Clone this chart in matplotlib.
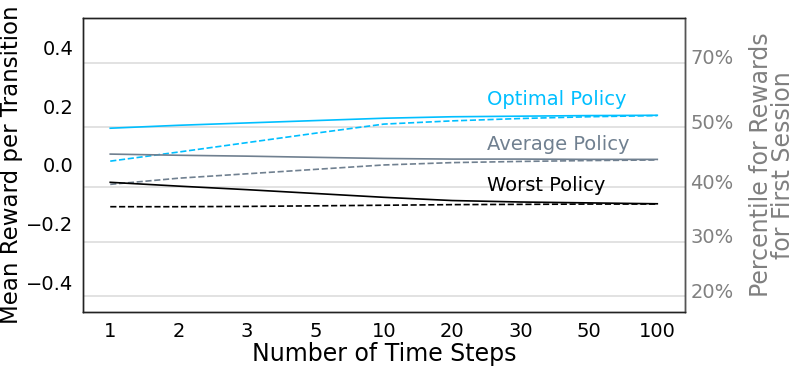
import matplotlib.pyplot as plt
import matplotlib.transforms as mtransforms

steps = ["1", "2", "3", "5", "10", "20", "30", "50", "100"]

optimal = [0.125, 0.135, 0.143, 0.151, 0.159, 0.164, 0.166, 0.168, 0.169]
optimal_first = [0.013, 0.044, 0.076, 0.108, 0.139, 0.150, 0.158, 0.164, 0.168]
average = [0.037, 0.033, 0.030, 0.026, 0.022, 0.020, 0.020, 0.019, 0.019]
average_first = [-0.066, -0.045, -0.030, -0.015, 0.000, 0.008, 0.012, 0.015, 0.017]
worst = [-0.059, -0.072, -0.084, -0.097, -0.110, -0.121, -0.126, -0.129, -0.132]
worst_first = [-0.142, -0.142, -0.141, -0.139, -0.137, -0.135, -0.134, -0.133, -0.133]

pct_labels = ["20%", "30%", "40%", "50%", "70%"]
pct_reward = [-0.446, -0.262, -0.075, 0.129, 0.347]

c_opt = "#00bfff"
c_avg = "#708090"
c_worst = "black"


def main():
    fig = plt.figure(figsize=(7.97, 3.67), dpi=100)
    ax = fig.add_axes([0.104, 0.150, 0.755, 0.801])
    x = range(len(steps))

    ax.plot(x, optimal, color=c_opt, lw=1.2)
    ax.plot(x, optimal_first, color=c_opt, lw=1.2, ls="--")
    ax.plot(x, average, color=c_avg, lw=1.2)
    ax.plot(x, average_first, color=c_avg, lw=1.2, ls="--")
    ax.plot(x, worst, color=c_worst, lw=1.2)
    ax.plot(x, worst_first, color=c_worst, lw=1.2, ls="--")

    ax.text(5.51, 0.221, "Optimal Policy", color=c_opt, fontsize=14, va="center")
    ax.text(5.51, 0.071, "Average Policy", color=c_avg, fontsize=14, va="center")
    ax.text(5.51, -0.071, "Worst Policy", color=c_worst, fontsize=14, va="center")

    ax.set_xlim(-0.4, 8.4)
    ax.set_ylim(-0.5, 0.5)
    ax.set_xticks(list(x))
    ax.set_xticklabels(steps)
    ax.set_yticks([-0.4, -0.2, 0.0, 0.2, 0.4])
    ax.tick_params(length=0, labelsize=14, pad=7)
    ax.set_xlabel("Number of Time Steps", fontsize=17, labelpad=1)
    ax.set_ylabel("Mean Reward per Transition", fontsize=16.5, labelpad=2)

    for y in pct_reward:
        ax.axhline(y, color="#dddddd", lw=1.2, zorder=0)

    ax2 = ax.twinx()
    ax2.set_ylim(-0.5, 0.5)
    ax2.set_yticks(pct_reward)
    ax2.set_yticklabels(pct_labels)
    ax2.tick_params(length=0, labelsize=14, pad=4, labelcolor="gray")
    offset = mtransforms.ScaledTranslation(0, 0.06, fig.dpi_scale_trans)
    for lab in ax2.get_yticklabels():
        lab.set_transform(lab.get_transform() + offset)
    ax2.set_ylabel("Percentile for Rewards\nfor First Session", fontsize=17,
                   color="gray", linespacing=0.9, labelpad=11)

    for a in (ax, ax2):
        for s in a.spines.values():
            s.set_color("#222222")
            s.set_linewidth(1.0)
    ax2.spines["right"].set_color("#555555")

    plt.savefig("out.png", dpi=100)


if __name__ == "__main__":
    main()
